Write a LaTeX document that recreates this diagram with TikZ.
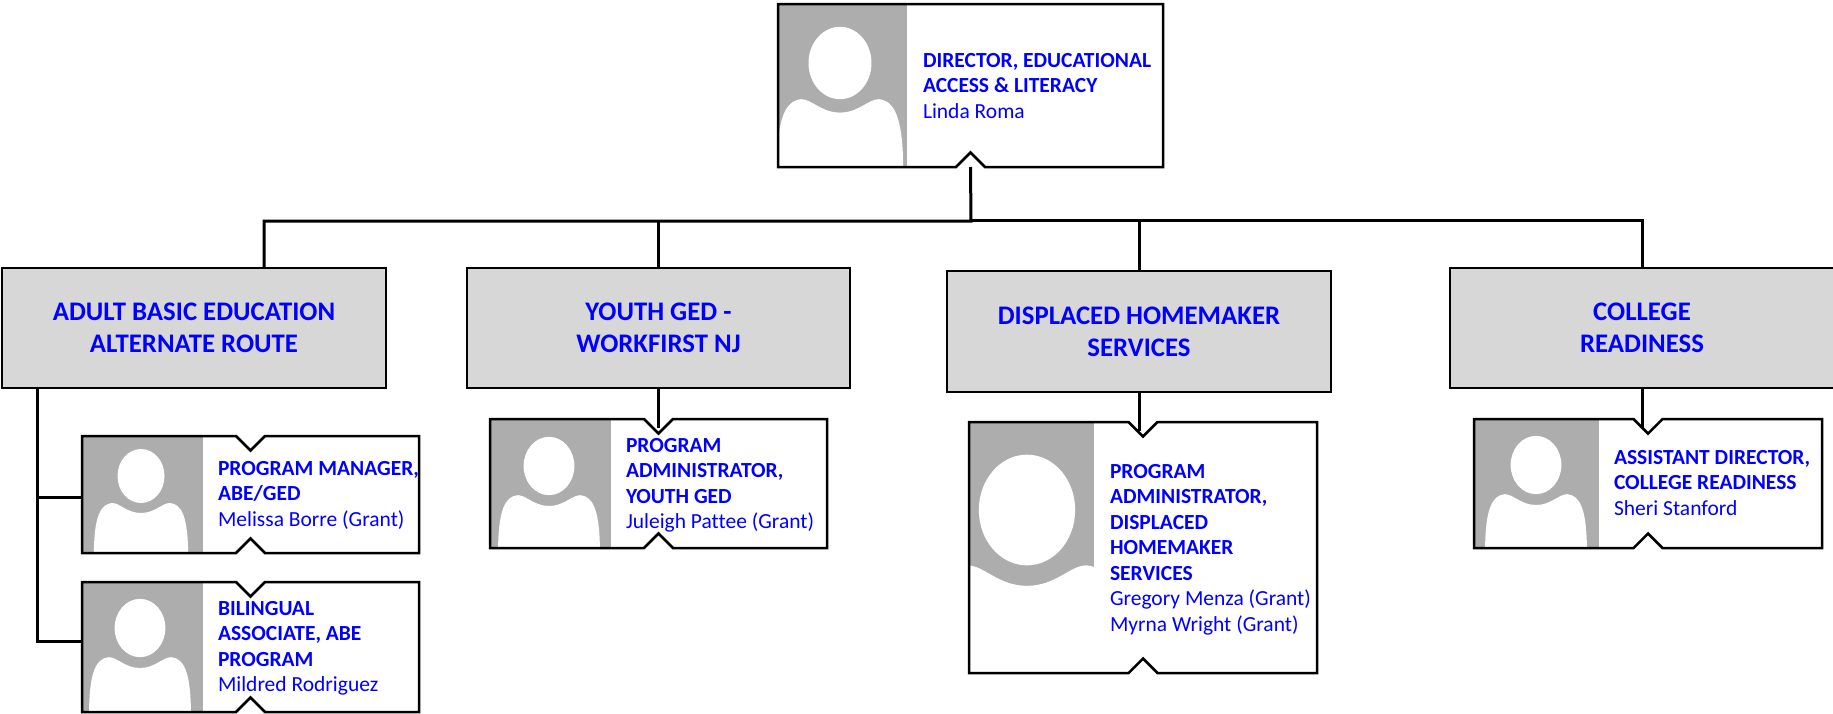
\documentclass[tikz,border=0pt]{standalone}
\usepackage{fontspec}
\setmainfont{Carlito}[Ligatures=NoCommon]
\definecolor{txtblue}{RGB}{0,0,255}
\definecolor{catgray}{RGB}{215,215,215}
\definecolor{photogray}{RGB}{173,173,173}
\tikzset{
  x=0.5pt,y=-0.5pt,
  catbox/.style={draw=black,line width=1.4pt,fill=catgray,inner sep=0pt,outer sep=0pt,
    align=center,text=txtblue,font=\fontsize{13.4}{16}\selectfont\bfseries},
  cardframe/.style={inner sep=0pt,outer sep=0pt},
  cardline/.style={draw=black,line width=1.25pt,line join=miter},
  cardtext/.style={anchor=north west,inner sep=0pt,outer sep=0pt,align=left,text=txtblue,
    font=\fontsize{10.75}{12.75}\selectfont},
  link/.style={draw=black,line width=1.5pt,line cap=butt,line join=miter},
}
\newcommand\personscale{1}
\newcommand\mycard[9]{%
  \pgfmathsetmacro\cx{(#2+#4)/2}%
  \pgfmathsetmacro\cw{(#4-#2)/2}%
  \pgfmathsetmacro\ch{(#5-#3)/2}%
  \pgfmathsetmacro\cy{(#3+#5)/2}%
  \node[cardframe,minimum width=\cw pt,minimum height=\ch pt] (#1) at (\cx,\cy) {};
  \fill[white] (#2,#3) rectangle (#4,#5);
  \begin{scope}
    \clip (#2,#3) rectangle (#6,#5);
    \fill[photogray] (#2,#3) rectangle (#6,#5);
    \begin{scope}[shift={(#8,#9)},scale=\personscale]
      \fill[white] (0,0) ellipse [x radius=23.5,y radius=27];
      \fill[white] (-48,300) -- (-47,70) .. controls (-46,42) and (-41,28) .. (-29,27)
        .. controls (-21,27) and (-14,37) .. (0,37)
        .. controls (14,37) and (21,27) .. (29,27)
        .. controls (41,28) and (46,42) .. (47,70) -- (48,300) -- cycle;
    \end{scope}
  \end{scope}
  \pgfmathsetmacro\nl{\cx-14.5}%
  \pgfmathsetmacro\nr{\cx+14.5}%
  \pgfmathsetmacro\nt{#3+#7}%
  \pgfmathsetmacro\nb{#5-14.5}%
  \fill[white] (\nl,#5) -- (\cx,\nb) -- (\nr,#5) -- cycle;
  \fill[white] (\nl,#3) -- (\cx,\nt) -- (\nr,#3) -- cycle;
  \path[cardline] (#2,#3) -- (\nl,#3) -- (\cx,\nt) -- (\nr,#3) -- (#4,#3) -- (#4,#5)
    -- (\nr,#5) -- (\cx,\nb) -- (\nl,#5) -- (#2,#5) -- cycle;
}
\begin{document}
\begin{tikzpicture}
\useasboundingbox (0,0) rectangle (1833,713);
\fill[white] (0,0) rectangle (1833,713);

% Department boxes
\node[catbox,minimum width=192pt,minimum height=60pt] (abe) at (194,328) {ADULT BASIC EDUCATION\\ALTERNATE ROUTE};
\node[catbox,minimum width=191.5pt,minimum height=60pt] (ged) at (658.5,328) {YOUTH GED -\\WORKFIRST NJ};
\node[catbox,minimum width=192pt,minimum height=60.5pt] (dhs) at (1139,331.5) {DISPLACED HOMEMAKER\\SERVICES};
\node[catbox,minimum width=192pt,minimum height=60pt] (crd) at (1642,328) {COLLEGE\\READINESS};

% Cards
\renewcommand\personscale{1.34}
\mycard{dir}{778}{4}{1163}{167}{907}{0}{840}{63}
\node[cardtext] (dirtext) at (923,53.3) {\textbf{DIRECTOR, EDUCATIONAL}\\\textbf{ACCESS \& LITERACY}\\Linda Roma};

\renewcommand\personscale{1}
\mycard{pm}{82}{436}{419}{553}{203}{14.5}{141}{476}
\node[cardtext] (pmtext) at (218,461.3) {\textbf{PROGRAM MANAGER,}\\\textbf{ABE/GED}\\Melissa Borre (Grant)};

\renewcommand\personscale{1.08}
\mycard{ba}{82}{582}{419}{712}{203}{14.5}{140}{628}
\node[cardtext] (batext) at (218,601.3) {\textbf{BILINGUAL}\\\textbf{ASSOCIATE, ABE}\\\textbf{PROGRAM}\\Mildred Rodriguez};

\mycard{ya}{490}{419}{827}{548}{611}{14.5}{549}{466}
\node[cardtext] (yatext) at (626,438.3) {\textbf{PROGRAM}\\\textbf{ADMINISTRATOR,}\\\textbf{YOUTH GED}\\Juleigh Pattee (Grant)};

\renewcommand\personscale{2.05}
\mycard{dh}{969}{422}{1317}{673}{1094}{14.5}{1027}{510}
\node[cardtext] (dhtext) at (1110,464.3) {\textbf{PROGRAM}\\\textbf{ADMINISTRATOR,}\\\textbf{DISPLACED}\\\textbf{HOMEMAKER}\\\textbf{SERVICES}\\Gregory Menza (Grant)\\Myrna Wright (Grant)};

\renewcommand\personscale{1.08}
\mycard{cr}{1474}{419}{1822}{548}{1599}{14.5}{1536}{465}
\node[cardtext] (crtext) at (1614,450.3) {\textbf{ASSISTANT DIRECTOR,}\\\textbf{COLLEGE READINESS}\\Sheri Stanford};

% Connector waypoints
\coordinate (busleft) at (264,221);
\coordinate (busmid) at (971,221);
\coordinate (busmidr) at (971,220);
\coordinate (busright) at (1642,220);
\coordinate (abetop) at (264,268);
\coordinate (gedbus) at (658.5,221);
\coordinate (dhsbus) at (1139,220);
\coordinate (spinetop) at (37,388);
\coordinate (spinepm) at (37,497);
\coordinate (spineba) at (37,641);
\coordinate (pmin) at (82,497);
\coordinate (bain) at (82,641);
\coordinate (yain) at (658.5,428);
\coordinate (dhin) at (1139,431);
\coordinate (crin) at (1642,428);

% Connectors
\draw[link] (dir.south) -- (busmid) -- (busleft) -- (abetop);
\draw[link] (busmidr) -- (busright) -- (crd.north);
\draw[link] (gedbus) -- (ged.north);
\draw[link] (dhsbus) -- (dhs.north);
\draw[link] (spinetop) -- (spineba) -- (bain);
\draw[link] (spinepm) -- (pmin);
\draw[link] (ged.south) -- (yain);
\draw[link] (dhs.south) -- (dhin);
\draw[link] (crd.south) -- (crin);
\end{tikzpicture}
\end{document}
